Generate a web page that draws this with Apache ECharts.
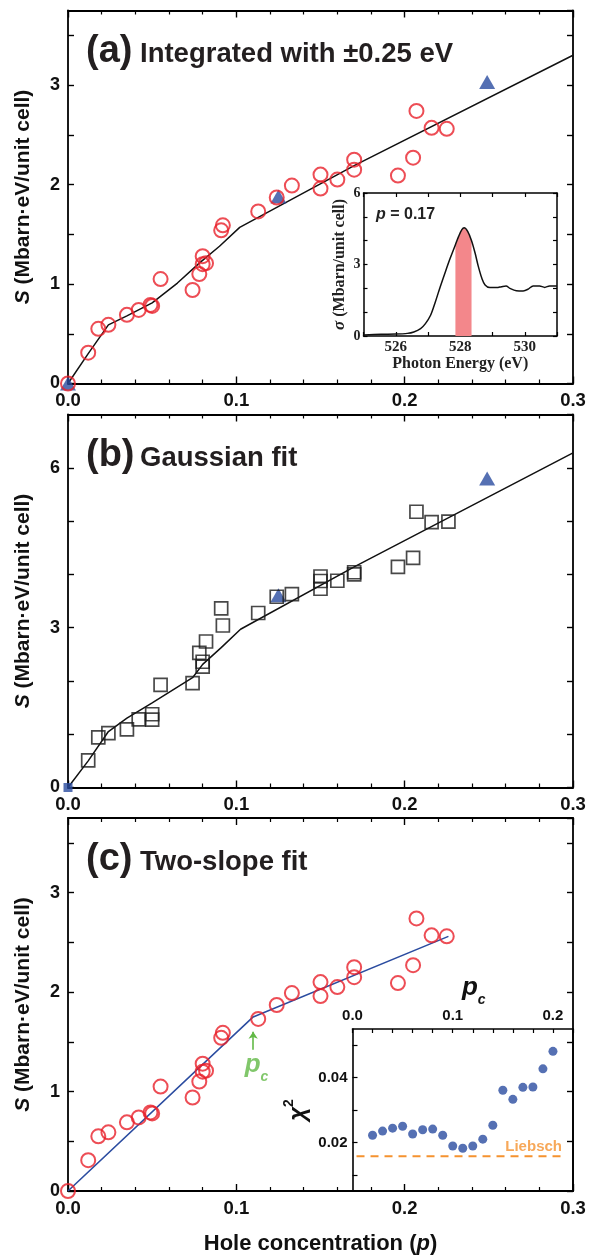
<!DOCTYPE html>
<html><head><meta charset="utf-8">
<script src="https://cdn.jsdelivr.net/npm/echarts@6/dist/echarts.min.js"></script>
<style>html,body{margin:0;padding:0;background:#fff}#c{width:589px;height:1258px}</style>
</head><body><div id="c"></div>
<script>
// ---------- data ----------
const holeP = [0, 0.012, 0.018, 0.024, 0.035, 0.042, 0.049, 0.050, 0.055, 0.074, 0.078, 0.080, 0.080, 0.082, 0.091, 0.092, 0.113, 0.124, 0.133, 0.150, 0.150, 0.160, 0.170, 0.170, 0.196, 0.205, 0.207, 0.216, 0.225];
const intS  = [0, 0.31, 0.55, 0.59, 0.69, 0.74, 0.79, 0.78, 1.05, 0.94, 1.10, 1.28, 1.20, 1.21, 1.54, 1.59, 1.73, 1.87, 1.99, 2.10, 1.96, 2.05, 2.25, 2.15, 2.09, 2.27, 2.74, 2.57, 2.56];
const triPA = [0, 0.125, 0.249];
const triSA = [0, 1.88, 3.03];
const fitAP = [0, 0.012, 0.024, 0.035, 0.050, 0.065, 0.078, 0.090, 0.102, 0.170, 0.300];
const fitAS = [0, 0.30, 0.59, 0.68, 0.81, 1.01, 1.21, 1.38, 1.57, 2.19, 3.30];

const gaussP = [0.012, 0.018, 0.024, 0.035, 0.042, 0.050, 0.050, 0.055, 0.074, 0.078, 0.080, 0.080, 0.082, 0.091, 0.092, 0.113, 0.124, 0.133, 0.150, 0.150, 0.150, 0.160, 0.170, 0.170, 0.196, 0.205, 0.207, 0.216, 0.226];
const gaussS = [0.51, 0.94, 1.02, 1.09, 1.28, 1.375, 1.275, 1.925, 1.96, 2.525, 2.36, 2.27, 2.74, 3.36, 3.04, 3.275, 3.58, 3.63, 3.96, 3.875, 3.73, 3.88, 4.04, 4.00, 4.14, 4.31, 5.175, 4.98, 4.99];
const triPB = [0.125, 0.249];
const triSB = [3.61, 5.80];
const originPB = [0];
const originSB = [0];
const fitBP = [0, 0.012, 0.024, 0.035, 0.050, 0.074, 0.080, 0.091, 0.1025, 0.170, 0.300];
const fitBS = [0, 0.50, 1.05, 1.30, 1.59, 2.06, 2.31, 2.625, 2.97, 4.14, 6.28];

const twoP = [0, 0.110, 0.226];
const twoS = [0, 1.75, 2.56];
const arrowP = [0.110, 0.110];
const arrowS = [1.42, 1.60];

const specE = [525.0, 525.54, 526.0, 526.36, 526.56, 526.77, 526.92, 527.08, 527.23, 527.38, 527.54, 527.69, 527.85, 527.95, 528.05, 528.12, 528.23, 528.35, 528.46, 528.56, 528.67, 528.77, 528.92, 529.13, 529.28, 529.42, 529.54, 529.74, 529.95, 530.1, 530.26, 530.46, 530.62, 530.77, 531.0];
const specSigma = [0.04, 0.07, 0.08, 0.11, 0.17, 0.31, 0.52, 0.87, 1.44, 2.07, 2.70, 3.27, 3.83, 4.18, 4.46, 4.54, 4.39, 4.00, 3.48, 2.92, 2.42, 2.14, 2.03, 2.03, 2.07, 2.10, 2.00, 1.90, 1.89, 1.96, 2.10, 2.10, 2.04, 2.10, 2.10];
const bandE = [527.85, 527.95, 528.05, 528.12, 528.23, 528.35];
const bandSigma = [3.83, 4.18, 4.46, 4.54, 4.39, 4.00];

const pcVals  = [0.02, 0.03, 0.04, 0.05, 0.06, 0.07, 0.08, 0.09, 0.10, 0.11, 0.12, 0.13, 0.14, 0.15, 0.16, 0.17, 0.18, 0.19, 0.20];
const chiVals = [0.0222, 0.0235, 0.0244, 0.0250, 0.0226, 0.0239, 0.0241, 0.0222, 0.0189, 0.0182, 0.0189, 0.0210, 0.0253, 0.0361, 0.0333, 0.0370, 0.0371, 0.0427, 0.0481];
const liebschP = [0.004, 0.21];
const liebschChi = [0.0157, 0.0157];

const insetCYLabels = [0.02, 0.04];
const insetCYTicks = [0.01, 0.02, 0.03, 0.04, 0.05];

// ---------- helpers ----------
const zip = (a, b) => a.map((v, i) => [v, b[i]]);
const SANS = '"Liberation Sans", Arial, Helvetica, sans-serif';
const SERIF = '"Liberation Serif", "Times New Roman", serif';
const RED = '#e8202a', BLUE = '#2b4ca0', GREEN = '#62b946', ORANGE = '#f5922f';

const isInt = v => Math.abs(v - Math.round(v)) < 1e-9;

function mainX(gi, pos, labels, extra) {
  return Object.assign({
    type: 'value', gridIndex: gi, position: pos, min: 0, max: 0.3, interval: 0.1,
    axisLine: { show: true, onZero: false, lineStyle: { color: '#000', width: 1.8 } },
    axisTick: { show: true, inside: true, length: 7, lineStyle: { color: '#000', width: 1.4 } },
    minorTick: { show: true, splitNumber: 5, length: 4, lineStyle: { color: '#000', width: 1.2 } },
    axisLabel: { show: labels, margin: 8, formatter: v => v.toFixed(1), fontSize: 18.5, fontWeight: 'bold', color: '#111', fontFamily: SANS },
    splitLine: { show: false }, minorSplitLine: { show: false }
  }, extra || {});
}
function mainY(gi, pos, labels, max, interval, labelEvery, extra) {
  return Object.assign({
    type: 'value', gridIndex: gi, position: pos, min: 0, max: max, interval: interval,
    axisLine: { show: true, onZero: false, lineStyle: { color: '#000', width: 1.8 } },
    axisTick: { show: true, inside: true, length: 6, lineStyle: { color: '#000', width: 1.4 } },
    axisLabel: { show: labels, margin: 8, showMaxLabel: false,
      formatter: v => (isInt(v) && Math.round(v) % labelEvery === 0) ? String(Math.round(v)) : '',
      fontSize: 18, fontWeight: 'bold', color: '#111', fontFamily: SANS },
    splitLine: { show: false }
  }, extra || {});
}
const yName = {
  name: '{i|S} (Mbarn·eV/unit cell)', nameLocation: 'middle', nameRotate: 90, nameGap: 34,
  nameTextStyle: { fontSize: 21, fontWeight: 'bold', color: '#111', fontFamily: SANS,
    rich: { i: { fontSize: 21, fontWeight: 'bold', fontStyle: 'italic', color: '#111', fontFamily: SANS } } }
};

const GL = 68, GW = 505, GH = 373;
const tops = [10.5, 414.5, 818];

const option = {
  animation: false,
  backgroundColor: '#fff',
  grid: [
    { left: GL, top: tops[0], width: GW, height: GH, outerBoundsMode: 'none' },
    { left: GL, top: tops[1], width: GW, height: GH, outerBoundsMode: 'none' },
    { left: GL, top: tops[2], width: GW, height: GH, outerBoundsMode: 'none' },
    { left: 363.5, top: 193, width: 193.5, height: 143, show: true, backgroundColor: '#fff', borderWidth: 0, outerBoundsMode: 'none' },
    { left: 352.5, top: 1029, width: 220.5, height: 162, show: true, backgroundColor: '#fff', borderWidth: 0, outerBoundsMode: 'none' }
  ],
  xAxis: [
    mainX(0, 'bottom', true),
    mainX(0, 'top', false),
    mainX(1, 'bottom', true),
    mainX(1, 'top', false),
    mainX(2, 'bottom', true, {
      name: 'Hole concentration ({i|p})', nameLocation: 'middle', nameGap: 42,
      nameTextStyle: { fontSize: 22, fontWeight: 'bold', color: '#111', fontFamily: SANS,
        rich: { i: { fontSize: 22, fontWeight: 'bold', fontStyle: 'italic', color: '#111', fontFamily: SANS } } }
    }),
    mainX(2, 'top', false),
    // inset (a)
    { type: 'value', gridIndex: 3, position: 'bottom', min: 525, max: 531, interval: 1,
      axisLine: { show: true, onZero: false, lineStyle: { color: '#000', width: 1.5 } },
      axisTick: { show: true, inside: true, length: 4, lineStyle: { color: '#000', width: 1.2 } },
      axisLabel: { show: true, margin: 4, formatter: v => (Math.round(v) % 2 === 0 ? String(Math.round(v)) : ''),
        fontSize: 15, fontWeight: 'bold', color: '#222', fontFamily: SERIF },
      splitLine: { show: false },
      name: 'Photon Energy (eV)', nameLocation: 'middle', nameGap: 20,
      nameTextStyle: { fontSize: 16, fontWeight: 'bold', color: '#222', fontFamily: SERIF } },
    { type: 'value', gridIndex: 3, position: 'top', min: 525, max: 531, interval: 1,
      axisLine: { show: true, onZero: false, lineStyle: { color: '#000', width: 1.5 } },
      axisTick: { show: true, inside: true, length: 4, lineStyle: { color: '#000', width: 1.2 } },
      axisLabel: { show: false }, splitLine: { show: false } },
    // inset (c)
    { type: 'value', gridIndex: 4, position: 'top', min: 0, max: 0.22, interval: 0.02,
      axisLine: { show: true, onZero: false, lineStyle: { color: '#000', width: 1.6 } },
      axisTick: { show: true, inside: true, length: 4, lineStyle: { color: '#000', width: 1.2 } },
      axisLabel: { show: true, margin: 6, formatter: v => (Math.abs(v * 10 - Math.round(v * 10)) < 1e-6 ? v.toFixed(1) : ''),
        fontSize: 15, fontWeight: 'bold', color: '#111', fontFamily: SANS },
      splitLine: { show: false },
      name: '{p|p}{c|c}', nameLocation: 'middle', nameGap: 28,
      nameTextStyle: { padding: [0, 0, 0, 22], rich: {
        p: { fontSize: 26, fontWeight: 'bold', fontStyle: 'italic', color: '#111', fontFamily: SANS, verticalAlign: 'bottom' },
        c: { fontSize: 14, fontWeight: 'bold', fontStyle: 'italic', color: '#111', fontFamily: SANS, verticalAlign: 'bottom', padding: [0, 0, -6, 0] } } } },
    { type: 'value', gridIndex: 4, position: 'bottom', min: 0, max: 0.22, interval: 0.02,
      axisLine: { show: true, onZero: false, lineStyle: { color: '#000', width: 1.6 } },
      axisTick: { show: false }, axisLabel: { show: false }, splitLine: { show: false } }
  ],
  yAxis: [
    mainY(0, 'left', true, 3.75, 0.5, 1, yName),
    mainY(0, 'right', false, 3.75, 0.5, 1),
    mainY(1, 'left', true, 7, 1, 3, yName),
    mainY(1, 'right', false, 7, 1, 3),
    mainY(2, 'left', true, 3.75, 0.5, 1, yName),
    mainY(2, 'right', false, 3.75, 0.5, 1),
    // inset (a)
    { type: 'value', gridIndex: 3, position: 'left', min: 0, max: 6, interval: 1,
      axisLine: { show: true, onZero: false, lineStyle: { color: '#000', width: 1.5 } },
      axisTick: { show: true, inside: true, length: 4, lineStyle: { color: '#000', width: 1.2 } },
      axisLabel: { show: true, margin: 3, formatter: v => (Math.round(v) % 3 === 0 ? String(Math.round(v)) : ''),
        fontSize: 14, fontWeight: 'bold', color: '#222', fontFamily: SERIF },
      splitLine: { show: false },
      name: '{i|σ} (Mbarn/unit cell)', nameLocation: 'middle', nameRotate: 90, nameGap: 15,
      nameTextStyle: { fontSize: 16, fontWeight: 'bold', color: '#222', fontFamily: SERIF,
        rich: { i: { fontSize: 17, fontWeight: 'bold', fontStyle: 'italic', color: '#222', fontFamily: SERIF } } } },
    { type: 'value', gridIndex: 3, position: 'right', min: 0, max: 6, interval: 1,
      axisLine: { show: true, onZero: false, lineStyle: { color: '#000', width: 1.5 } },
      axisTick: { show: true, inside: true, length: 4, lineStyle: { color: '#000', width: 1.2 } },
      axisLabel: { show: false }, splitLine: { show: false } },
    // inset (c)
    { type: 'value', gridIndex: 4, position: 'left', min: 0.005, max: 0.055,
      axisLine: { show: true, onZero: false, lineStyle: { color: '#000', width: 1.6 } },
      axisTick: { show: true, inside: true, length: 5, customValues: insetCYTicks, lineStyle: { color: '#000', width: 1.2 } },
      axisLabel: { show: true, margin: 5, customValues: insetCYLabels, formatter: v => v.toFixed(2),
        fontSize: 15, fontWeight: 'bold', color: '#111', fontFamily: SANS },
      splitLine: { show: false },
      name: '{c|χ}{s|2}', nameLocation: 'middle', nameRotate: 90, nameGap: 42,
      nameTextStyle: { rich: {
        c: { fontSize: 24, fontWeight: 'bold', fontStyle: 'italic', color: '#111', fontFamily: SANS, verticalAlign: 'bottom' },
        s: { fontSize: 14, fontWeight: 'bold', color: '#111', fontFamily: SANS, verticalAlign: 'top', padding: [-4, 0, 0, 0] } } } },
    { type: 'value', gridIndex: 4, position: 'right', min: 0.005, max: 0.055,
      axisLine: { show: true, onZero: false, lineStyle: { color: '#000', width: 1.6 } },
      axisTick: { show: false }, axisLabel: { show: false }, splitLine: { show: false } }
  ],
  series: [
    // panel (a)
    { type: 'line', xAxisIndex: 0, yAxisIndex: 0, data: zip(fitAP, fitAS), symbol: 'none',
      lineStyle: { color: '#111', width: 1.5 }, z: 2 },
    { type: 'scatter', xAxisIndex: 0, yAxisIndex: 0, data: zip(triPA, triSA), symbol: 'triangle', symbolSize: [16, 14],
      itemStyle: { color: BLUE }, z: 3 },
    { type: 'scatter', xAxisIndex: 0, yAxisIndex: 0, data: zip(holeP, intS), symbol: 'circle', symbolSize: 14,
      itemStyle: { color: 'rgba(0,0,0,0)', borderColor: RED, borderWidth: 2 }, z: 4 },
    // panel (b)
    { type: 'line', xAxisIndex: 2, yAxisIndex: 2, data: zip(fitBP, fitBS), symbol: 'none',
      lineStyle: { color: '#111', width: 1.5 }, z: 2 },
    { type: 'scatter', xAxisIndex: 2, yAxisIndex: 2, data: zip(originPB, originSB), symbol: 'rect', symbolSize: 9,
      itemStyle: { color: BLUE }, z: 3 },
    { type: 'scatter', xAxisIndex: 2, yAxisIndex: 2, data: zip(triPB, triSB), symbol: 'triangle', symbolSize: [16, 14],
      itemStyle: { color: BLUE }, z: 3 },
    { type: 'scatter', xAxisIndex: 2, yAxisIndex: 2, data: zip(gaussP, gaussS), symbol: 'rect', symbolSize: 13,
      itemStyle: { color: 'rgba(0,0,0,0)', borderColor: '#1a1a1a', borderWidth: 1.7 }, z: 4 },
    // panel (c)
    { type: 'line', xAxisIndex: 4, yAxisIndex: 4, data: zip(twoP, twoS), symbol: 'none',
      lineStyle: { color: BLUE, width: 1.6 }, z: 2 },
    { type: 'scatter', xAxisIndex: 4, yAxisIndex: 4, data: zip(holeP, intS), symbol: 'circle', symbolSize: 14,
      itemStyle: { color: 'rgba(0,0,0,0)', borderColor: RED, borderWidth: 2 }, z: 4 },
    { type: 'lines', coordinateSystem: 'cartesian2d', xAxisIndex: 4, yAxisIndex: 4,
      data: [{ coords: zip(arrowP, arrowS) }], symbol: ['none', 'arrow'], symbolSize: 7,
      lineStyle: { color: GREEN, width: 1.6, opacity: 1 }, z: 5 },
    { type: 'scatter', xAxisIndex: 4, yAxisIndex: 4, data: [[0.112, 1.27]], symbolSize: 0, silent: true,
      label: { show: true, position: 'inside', formatter: '{p|p}{c|c}', rich: {
        p: { fontSize: 26, fontWeight: 'bold', fontStyle: 'italic', color: GREEN, fontFamily: SANS, verticalAlign: 'bottom' },
        c: { fontSize: 14, fontWeight: 'bold', fontStyle: 'italic', color: GREEN, fontFamily: SANS, verticalAlign: 'bottom', padding: [0, 0, -6, 0] } } }, z: 5 },
    // inset (a)
    { type: 'line', xAxisIndex: 6, yAxisIndex: 6, data: zip(bandE, bandSigma), symbol: 'none',
      lineStyle: { width: 0, opacity: 0 }, areaStyle: { color: '#f3878b', opacity: 1 }, z: 6 },
    { type: 'line', xAxisIndex: 6, yAxisIndex: 6, data: zip(specE, specSigma), symbol: 'none', smooth: 0.3,
      lineStyle: { color: '#111', width: 1.5 }, z: 7 },
    // inset (c)
    { type: 'line', xAxisIndex: 8, yAxisIndex: 8, data: zip(liebschP, liebschChi), symbol: 'none',
      lineStyle: { color: ORANGE, width: 2, type: [8, 6] }, z: 6 },
    { type: 'scatter', xAxisIndex: 8, yAxisIndex: 8, data: [[0.209, 0.0186]], symbolSize: 0, silent: true,
      label: { show: true, position: 'left', distance: 0, formatter: 'Liebsch',
        fontSize: 15, fontWeight: 'bold', color: ORANGE, fontFamily: SANS }, z: 7 },
    { type: 'scatter', xAxisIndex: 8, yAxisIndex: 8, data: zip(pcVals, chiVals), symbol: 'circle', symbolSize: 9,
      itemStyle: { color: BLUE }, z: 7 }
  ],
  graphic: [
    ...[['(a)', 'Integrated with ±0.25 eV'], ['(b)', 'Gaussian fit'], ['(c)', 'Two-slope fit']].map((t, k) => ({
      type: 'group', children: [
        { type: 'text', x: 86, y: 52 + k * 404,
          style: { text: t[0], fill: '#231f20', fontSize: 38, fontWeight: 'bold', fontFamily: SANS, align: 'left', verticalAlign: 'middle' } },
        { type: 'text', x: 140, y: 54 + k * 404,
          style: { text: t[1], fill: '#231f20', fontSize: 27.5, fontWeight: 'bold', fontFamily: SANS, align: 'left', verticalAlign: 'middle' } }
      ] })),
    { type: 'text', x: 376, y: 215, z: 100,
      style: { text: '{i|p}{n| = 0.17}', align: 'left', verticalAlign: 'middle',
        rich: { i: { fontSize: 16, fontWeight: 'bold', fontStyle: 'italic', fill: '#222', fontFamily: SANS },
                n: { fontSize: 16, fontWeight: 'bold', fill: '#222', fontFamily: SANS } } } }
  ]
};

const chart = echarts.init(document.getElementById('c'), null, { renderer: 'canvas' });
chart.setOption(option);
</script>
</body></html>
